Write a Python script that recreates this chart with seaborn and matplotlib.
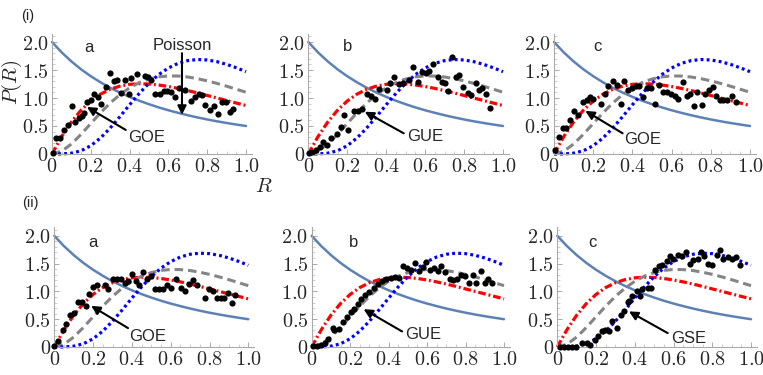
import numpy as np
import pandas as pd
import matplotlib
matplotlib.use("Agg")
import matplotlib.pyplot as plt
from matplotlib.ticker import MultipleLocator, FuncFormatter
import seaborn as sns

# theory curves at R = 0, 0.05, ..., 1.0
R_grid = [0.0, 0.05, 0.1, 0.15, 0.2, 0.25, 0.3, 0.35, 0.4, 0.45, 0.5,
          0.55, 0.6, 0.65, 0.7, 0.75, 0.8, 0.85, 0.9, 0.95, 1.0]
poisson = [2.0, 1.814, 1.653, 1.512, 1.389, 1.28, 1.183, 1.097, 1.02, 0.951, 0.889,
           0.832, 0.781, 0.735, 0.692, 0.653, 0.617, 0.584, 0.554, 0.526, 0.5]
goe = [0.0, 0.312, 0.572, 0.782, 0.946, 1.069, 1.156, 1.212, 1.244, 1.255, 1.25,
       1.232, 1.205, 1.171, 1.132, 1.09, 1.045, 1.0, 0.955, 0.91, 0.866]
gue = [0.0, 0.05, 0.178, 0.352, 0.544, 0.735, 0.91, 1.06, 1.182, 1.275, 1.339,
       1.378, 1.394, 1.392, 1.375, 1.345, 1.306, 1.261, 1.211, 1.157, 1.103]
gse = [0.0, 0.001, 0.014, 0.058, 0.148, 0.286, 0.464, 0.667, 0.879, 1.082, 1.265,
       1.418, 1.536, 1.619, 1.668, 1.687, 1.679, 1.649, 1.601, 1.54, 1.47]

# measured histograms (black dots)
ia_R = [0.005, 0.022, 0.043, 0.062, 0.082, 0.103, 0.12, 0.137, 0.155, 0.165, 0.182, 0.199,
        0.216, 0.237, 0.254, 0.28, 0.297, 0.32, 0.337, 0.357, 0.378, 0.399, 0.409, 0.44,
        0.478, 0.495, 0.512, 0.533, 0.555, 0.577, 0.594, 0.611, 0.632, 0.653, 0.684, 0.715,
        0.735, 0.756, 0.773, 0.79, 0.813, 0.835, 0.856, 0.876, 0.899, 0.916, 0.935]
ia_P = [0.02, 0.29, 0.29, 0.43, 0.52, 0.86, 0.58, 0.64, 0.67, 0.74, 0.93, 0.96,
        1.08, 1.01, 0.89, 1.2, 1.44, 1.31, 1.33, 1.09, 1.33, 1.08, 1.35, 1.43,
        1.39, 1.37, 1.33, 1.08, 1.08, 1.13, 1.13, 1.1, 1.01, 1.17, 1.14, 0.95,
        1.02, 1.08, 1.05, 0.87, 0.78, 0.86, 0.71, 0.92, 0.92, 0.75, 0.81]

ib_R = [0.004, 0.02, 0.038, 0.06, 0.077, 0.094, 0.117, 0.146, 0.168, 0.185, 0.202, 0.236,
        0.257, 0.277, 0.3, 0.322, 0.343, 0.363, 0.402, 0.42, 0.442, 0.466, 0.488, 0.517,
        0.54, 0.562, 0.583, 0.603, 0.62, 0.642, 0.664, 0.685, 0.702, 0.719, 0.736, 0.757,
        0.774, 0.796, 0.818, 0.836, 0.86, 0.877, 0.894, 0.911, 0.934]
ib_P = [0.02, 0.04, 0.08, 0.12, 0.22, 0.16, 0.28, 0.36, 0.48, 0.69, 0.43, 0.76,
        0.77, 0.81, 1.07, 1.03, 0.99, 1.16, 1.15, 1.26, 1.38, 1.25, 1.26, 1.33,
        1.56, 1.29, 1.47, 1.44, 1.49, 1.6, 1.38, 1.29, 1.26, 1.13, 1.73, 1.38,
        1.41, 1.2, 1.09, 1.05, 1.26, 1.14, 1.17, 1.07, 0.83]

ic_R = [0.005, 0.027, 0.044, 0.061, 0.082, 0.102, 0.124, 0.146, 0.167, 0.184, 0.2, 0.238,
        0.26, 0.277, 0.299, 0.323, 0.34, 0.357, 0.379, 0.396, 0.418, 0.435, 0.456, 0.476,
        0.493, 0.515, 0.537, 0.558, 0.575, 0.595, 0.617, 0.634, 0.656, 0.677, 0.694, 0.714,
        0.731, 0.753, 0.77, 0.792, 0.809, 0.827, 0.847, 0.864, 0.884, 0.906, 0.929]
ic_P = [0.07, 0.3, 0.46, 0.47, 0.61, 0.76, 0.7, 0.93, 0.96, 1.01, 0.99, 0.9,
        1.08, 1.21, 1.31, 1.23, 0.9, 1.31, 1.15, 1.17, 1.21, 1.21, 1.01, 1.17,
        1.17, 0.9, 1.23, 1.11, 1.11, 1.08, 1.03, 0.99, 1.29, 1.03, 1.08, 0.86,
        1.11, 0.88, 1.08, 1.15, 1.2, 1.03, 0.96, 0.96, 0.97, 1.03, 0.93]

iia_R = [0.0, 0.021, 0.043, 0.06, 0.081, 0.1, 0.124, 0.141, 0.163, 0.18, 0.201, 0.218,
         0.261, 0.279, 0.304, 0.321, 0.342, 0.364, 0.381, 0.399, 0.421, 0.438, 0.459, 0.479,
         0.497, 0.519, 0.541, 0.562, 0.579, 0.6, 0.627, 0.651, 0.674, 0.696, 0.713, 0.734,
         0.777, 0.799, 0.816, 0.837, 0.858, 0.875, 0.897, 0.914, 0.933]
iia_P = [0.02, 0.1, 0.3, 0.41, 0.58, 0.61, 0.81, 0.81, 0.74, 0.95, 1.08, 1.11,
         1.11, 1.04, 1.22, 1.22, 1.22, 1.16, 1.19, 1.32, 1.19, 1.11, 1.35, 1.23,
         1.28, 1.05, 1.04, 1.04, 1.11, 1.07, 1.23, 1.07, 1.01, 1.14, 1.2, 1.11,
         0.89, 1.04, 1.01, 0.88, 0.88, 0.88, 0.97, 0.8, 0.93]

iib_R = [0.007, 0.029, 0.047, 0.068, 0.085, 0.111, 0.116, 0.14, 0.163, 0.185, 0.203, 0.22,
         0.241, 0.258, 0.279, 0.3, 0.324, 0.345, 0.365, 0.388, 0.411, 0.435, 0.452, 0.475,
         0.497, 0.518, 0.535, 0.556, 0.579, 0.596, 0.613, 0.636, 0.657, 0.674, 0.695, 0.717,
         0.735, 0.757, 0.775, 0.795, 0.816, 0.839, 0.856, 0.879, 0.9, 0.917, 0.937]
iib_P = [0.01, 0.01, 0.04, 0.08, 0.14, 0.35, 0.3, 0.33, 0.45, 0.54, 0.63, 0.68,
         0.78, 0.87, 0.93, 0.99, 1.07, 1.14, 1.19, 1.23, 1.25, 1.26, 1.25, 1.46,
         1.42, 1.39, 1.51, 1.36, 1.43, 1.53, 1.39, 1.42, 1.37, 1.45, 1.34, 1.23,
         1.21, 1.23, 1.3, 1.27, 1.16, 1.3, 1.15, 1.37, 1.15, 1.23, 1.16]

iic_R = [0.014, 0.036, 0.057, 0.074, 0.095, 0.126, 0.151, 0.169, 0.194, 0.212, 0.229, 0.246,
         0.267, 0.284, 0.306, 0.329, 0.346, 0.363, 0.37, 0.384, 0.41, 0.427, 0.435, 0.466,
         0.484, 0.504, 0.525, 0.542, 0.565, 0.582, 0.599, 0.621, 0.642, 0.663, 0.685, 0.702,
         0.725, 0.742, 0.759, 0.78, 0.8, 0.823, 0.84, 0.857, 0.88, 0.9, 0.921, 0.943]
iic_P = [0.0, 0.0, 0.0, 0.0, 0.0, 0.08, 0.07, 0.04, 0.13, 0.19, 0.29, 0.31,
         0.29, 0.46, 0.34, 0.58, 0.64, 0.81, 0.83, 0.91, 1.0, 0.91, 1.04, 1.06,
         1.06, 1.39, 1.46, 1.47, 1.55, 1.64, 1.58, 1.65, 1.64, 1.7, 1.5, 1.56,
         1.58, 1.71, 1.64, 1.5, 1.47, 1.65, 1.74, 1.58, 1.61, 1.58, 1.61, 1.47]

panel_letters = ["a", "b", "c", "a", "b", "c"]
arrow_labels = ["GOE", "GUE", "GOE", "GOE", "GUE", "GSE"]

sns.set_style("white")
plt.rcParams['font.family'] = ['Liberation Sans', 'DejaVu Sans']
plt.rcParams['mathtext.fontset'] = 'cm'

theory = pd.DataFrame({"R": R_grid, "Poisson": poisson, "GOE": goe, "GUE": gue, "GSE": gse})
curve_styles = {
    "Poisson": dict(color="#5E81B5", lw=1.8, linestyle="-"),
    "GOE": dict(color="#FF0000", lw=2.3, linestyle=(0, (2.4, 0.9, 0.6, 0.9))),
    "GUE": dict(color="#858585", lw=2.2, linestyle=(0, (2.8, 1.6))),
    "GSE": dict(color="#0000FF", lw=2.3, linestyle=(0, (0.9, 1.0))),
}

dots = [(ia_R, ia_P), (ib_R, ib_P), (ic_R, ic_P),
        (iia_R, iia_P), (iib_R, iib_P), (iic_R, iic_P)]

# axes placement in pixels: (x of R=0, px per unit R, y of P=0, px per unit P)
W, H = 763, 375
geom = [(52, 194, 154, 56), (308.3, 194.7, 154, 56), (554, 196, 154, 56),
        (54.3, 194, 347, 55.6), (311.7, 192.3, 347, 55.6), (557.3, 193.7, 347, 55.6)]
xmax, ymax = 1.03, 2.15

# annotation positions (text centre, arrow tail, arrow head) in data units
letter_pos = [(0.19, 1.91), (0.20, 1.92), (0.22, 1.92), (0.20, 1.88), (0.22, 1.88), (0.18, 1.88)]
ann = [((0.49, 0.30), (0.38, 0.43), (0.18, 0.84)),
       ((0.60, 0.31), (0.49, 0.37), (0.29, 0.755)),
       ((0.45, 0.25), (0.35, 0.37), (0.16, 0.77)),
       ((0.48, 0.19), (0.38, 0.34), (0.19, 0.74)),
       ((0.58, 0.22), (0.47, 0.28), (0.27, 0.68)),
       ((0.68, 0.16), (0.57, 0.25), (0.37, 0.64))]

fig = plt.figure(figsize=(W / 100, H / 100), dpi=100)
fmt = FuncFormatter(lambda v, _: r'$0$' if abs(v) < 1e-9 else r'$%.1f$' % v)

for i, (x0, sx, y0, sy) in enumerate(geom):
    ax = fig.add_axes([x0 / W, (H - y0) / H, sx * xmax / W, sy * ymax / H])
    for name in ["Poisson", "GOE", "GUE", "GSE"]:
        st = curve_styles[name]
        sns.lineplot(data=theory, x="R", y=name, ax=ax, color=st["color"], lw=st["lw"],
                     linestyle=st["linestyle"], clip_on=False)
    rr, pp = dots[i]
    sns.scatterplot(x=rr, y=pp, ax=ax, color="black", s=20, linewidth=0, zorder=5, clip_on=False)

    ax.set_xlim(0, xmax)
    ax.set_ylim(0, ymax)
    ax.set_xlabel("")
    ax.set_ylabel("")
    sns.despine(ax=ax)
    for sp in ["left", "bottom"]:
        ax.spines[sp].set_color("#aaaaaa")
        ax.spines[sp].set_linewidth(0.8)
    ax.xaxis.set_minor_locator(MultipleLocator(0.05))
    ax.yaxis.set_minor_locator(MultipleLocator(0.1))
    ax.set_xticks([0, 0.2, 0.4, 0.6, 0.8, 1.0])
    ax.set_yticks([0, 0.5, 1.0, 1.5, 2.0])
    ax.xaxis.set_major_formatter(fmt)
    ax.yaxis.set_major_formatter(fmt)
    ax.tick_params(which="major", direction="in", length=3.5, width=0.7, color="#aaaaaa",
                   labelsize=14.5, pad=2.5, bottom=True, left=True)
    ax.tick_params(which="minor", direction="in", length=2, width=0.5, color="#bbbbbb",
                   bottom=True, left=True)
    ax.patch.set_alpha(0)

    lx, ly = letter_pos[i]
    ax.text(lx, ly, panel_letters[i], fontsize=12, ha="center", va="center")
    (tx, ty), tail, head = ann[i]
    ax.annotate("", xy=head, xytext=tail,
                arrowprops=dict(arrowstyle="-|>", color="black", lw=1.5, mutation_scale=13,
                                shrinkA=0, shrinkB=0))
    ax.text(tx, ty, arrow_labels[i], fontsize=12, ha="center", va="center")

    if i == 0:
        ax.annotate("", xy=(0.67, 0.70), xytext=(0.67, 1.80),
                    arrowprops=dict(arrowstyle="-|>", color="black", lw=1.5, mutation_scale=13,
                                    shrinkA=0, shrinkB=0))
        ax.text(0.67, 1.93, "Poisson", fontsize=12, ha="center", va="center")

fig.text(28 / W, 1 - 16 / H, "(i)", fontsize=10.5, ha="center", va="center")
fig.text(30 / W, 1 - 203 / H, "(ii)", fontsize=10.5, ha="center", va="center")
fig.text(12 / W, 1 - 82 / H, r"$P(R)$", fontsize=15, rotation=90, ha="center", va="center")
fig.text(264 / W, 1 - 186 / H, r"$R$", fontsize=15, ha="center", va="center")

fig.savefig("out.png", dpi=100)
